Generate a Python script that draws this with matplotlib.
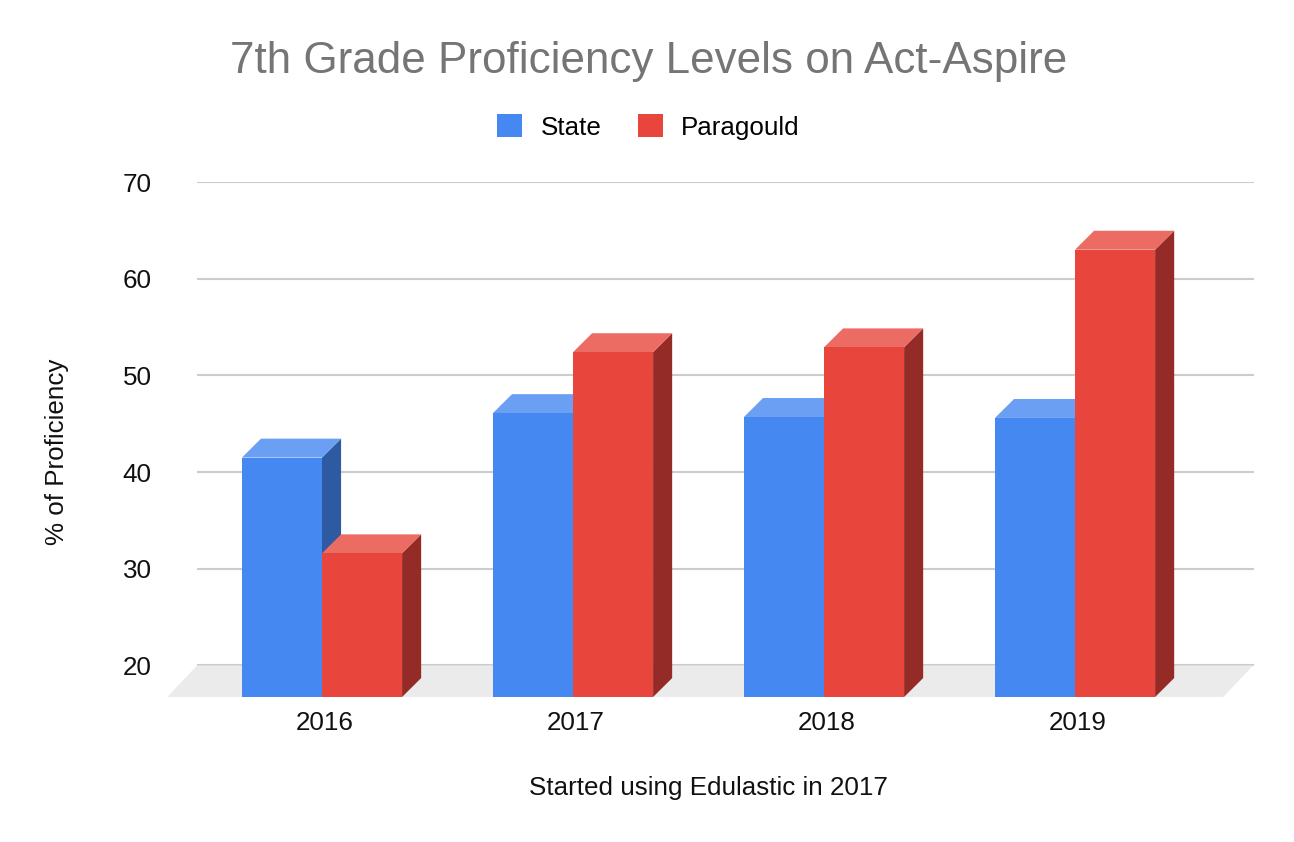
"""7th grade proficiency on ACT Aspire: State vs Paragould, pseudo-3D bar chart."""

import matplotlib

matplotlib.use("Agg")
import matplotlib.pyplot as plt
from matplotlib.patches import Polygon, Rectangle, Patch

plt.rcParams["font.family"] = ["Liberation Sans", "DejaVu Sans"]

# Datos
years = ["2016", "2017", "2018", "2019"]
state = [41.5, 46.1, 45.7, 45.6]
paragould = [31.6, 52.4, 52.9, 63.0]
y_ticks = [20, 30, 40, 50, 60, 70]

SERIES = [
    ("State", state, "#4688f1", "#6b9ff3", "#2d5aa0"),
    ("Paragould", paragould, "#e8453c", "#ec6b63", "#952b27"),
]

# Geometria del efecto 3D (unidades de datos)
Y_MIN, Y_MAX = 16.74, 70
BAR_W = 0.319
FIRST_X = -0.331
DEPTH_X, DEPTH_Y = 0.076, 1.96
FLOOR_DX = 0.1195
FLOOR_X = (-0.629, 3.578)

fig = plt.figure(figsize=(12.94, 8.42), dpi=100)
W, H = 1294, 842
ax = fig.add_axes([197 / W, 145 / H, (1254 - 197) / W, (697 - 182) / H])
ax.set_xlim(-0.510, 3.701)
ax.set_ylim(Y_MIN, Y_MAX)

for s in ax.spines.values():
    s.set_visible(False)
ax.set_yticks(y_ticks)
ax.set_xticks(range(len(years)))
ax.set_xticklabels(years)
ax.tick_params(axis="y", length=0, pad=32.5, labelsize=18.7, labelcolor="#111111")
ax.tick_params(axis="x", length=0, pad=10, labelsize=18.7, labelcolor="#111111")
ax.grid(axis="y", color="#cccccc", linewidth=1.5, zorder=0)
ax.set_axisbelow(True)

# Piso
floor = Polygon(
    [(FLOOR_X[0], Y_MIN), (FLOOR_X[1], Y_MIN),
     (FLOOR_X[1] + FLOOR_DX, 20), (FLOOR_X[0] + FLOOR_DX, 20)],
    closed=True, facecolor="#ebebeb", edgecolor="none", zorder=1, clip_on=False,
)
ax.add_patch(floor)

for i, year in enumerate(years):
    for k, (name, values, front, top, side) in enumerate(SERIES):
        x0 = i + FIRST_X + k * BAR_W
        v = values[i]
        z = 2 + k
        ax.add_patch(Rectangle((x0, Y_MIN), BAR_W, v - Y_MIN, facecolor=front,
                               edgecolor="none", zorder=z + 0.2, clip_on=False))
        ax.add_patch(Polygon(
            [(x0, v), (x0 + BAR_W, v), (x0 + BAR_W + DEPTH_X, v + DEPTH_Y), (x0 + DEPTH_X, v + DEPTH_Y)],
            closed=True, facecolor=top, edgecolor="none", zorder=z + 0.1, clip_on=False))
        ax.add_patch(Polygon(
            [(x0 + BAR_W, Y_MIN), (x0 + BAR_W, v), (x0 + BAR_W + DEPTH_X, v + DEPTH_Y),
             (x0 + BAR_W + DEPTH_X, Y_MIN + DEPTH_Y)],
            closed=True, facecolor=side, edgecolor="none", zorder=z, clip_on=False))

fig.text(649 / W, 1 - 62 / H, "7th Grade Proficiency Levels on Act-Aspire",
         ha="center", va="center", fontsize=31.7, color="#757575")

handles = [Patch(facecolor=c, edgecolor="none") for _, _, c, _, _ in SERIES]
fig.legend(handles, [n for n, *_ in SERIES], loc="center", bbox_to_anchor=(648.5 / W, 1 - 127 / H),
           ncol=2, frameon=False, fontsize=18.7, handlelength=0.96, handleheight=0.96,
           handletextpad=0.7, columnspacing=1.4)

fig.text(708 / W, 1 - 788 / H, "Started using Edulastic in 2017",
         ha="center", va="center", fontsize=18.7, color="#111111")
fig.text(57 / W, 1 - 452 / H, "% of Proficiency", rotation=90,
         ha="center", va="center", fontsize=18.7, color="#111111")

fig.savefig("out.png", dpi=100)
